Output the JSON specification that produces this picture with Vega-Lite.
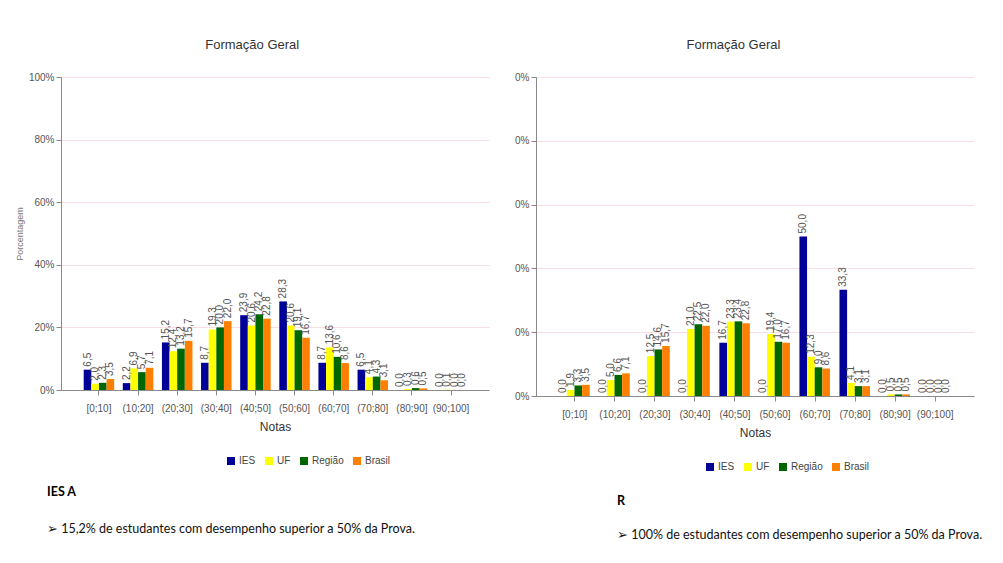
{
  "$schema": "https://vega.github.io/schema/vega-lite/v6.json",
  "background": "white",
  "padding": {"left": 15, "top": 39, "right": 5, "bottom": 5},
  "datasets": {
    "iesA": [
      {"faixa": "[0;10]", "serie": "IES", "v": 6.5}, {"faixa": "[0;10]", "serie": "UF", "v": 2.0}, {"faixa": "[0;10]", "serie": "Região", "v": 2.3}, {"faixa": "[0;10]", "serie": "Brasil", "v": 3.5},
      {"faixa": "(10;20]", "serie": "IES", "v": 2.2}, {"faixa": "(10;20]", "serie": "UF", "v": 6.9}, {"faixa": "(10;20]", "serie": "Região", "v": 5.7}, {"faixa": "(10;20]", "serie": "Brasil", "v": 7.1},
      {"faixa": "(20;30]", "serie": "IES", "v": 15.2}, {"faixa": "(20;30]", "serie": "UF", "v": 12.4}, {"faixa": "(20;30]", "serie": "Região", "v": 13.2}, {"faixa": "(20;30]", "serie": "Brasil", "v": 15.7},
      {"faixa": "(30;40]", "serie": "IES", "v": 8.7}, {"faixa": "(30;40]", "serie": "UF", "v": 19.3}, {"faixa": "(30;40]", "serie": "Região", "v": 20.0}, {"faixa": "(30;40]", "serie": "Brasil", "v": 22.0},
      {"faixa": "(40;50]", "serie": "IES", "v": 23.9}, {"faixa": "(40;50]", "serie": "UF", "v": 20.6}, {"faixa": "(40;50]", "serie": "Região", "v": 24.2}, {"faixa": "(40;50]", "serie": "Brasil", "v": 22.8},
      {"faixa": "(50;60]", "serie": "IES", "v": 28.3}, {"faixa": "(50;60]", "serie": "UF", "v": 20.6}, {"faixa": "(50;60]", "serie": "Região", "v": 19.1}, {"faixa": "(50;60]", "serie": "Brasil", "v": 16.7},
      {"faixa": "(60;70]", "serie": "IES", "v": 8.7}, {"faixa": "(60;70]", "serie": "UF", "v": 13.6}, {"faixa": "(60;70]", "serie": "Região", "v": 10.6}, {"faixa": "(60;70]", "serie": "Brasil", "v": 8.6},
      {"faixa": "(70;80]", "serie": "IES", "v": 6.5}, {"faixa": "(70;80]", "serie": "UF", "v": 4.1}, {"faixa": "(70;80]", "serie": "Região", "v": 4.3}, {"faixa": "(70;80]", "serie": "Brasil", "v": 3.1},
      {"faixa": "(80;90]", "serie": "IES", "v": 0.0}, {"faixa": "(80;90]", "serie": "UF", "v": 0.3}, {"faixa": "(80;90]", "serie": "Região", "v": 0.6}, {"faixa": "(80;90]", "serie": "Brasil", "v": 0.5},
      {"faixa": "(90;100]", "serie": "IES", "v": 0.0}, {"faixa": "(90;100]", "serie": "UF", "v": 0.1}, {"faixa": "(90;100]", "serie": "Região", "v": 0.0}, {"faixa": "(90;100]", "serie": "Brasil", "v": 0.0}
    ],
    "iesR": [
      {"faixa": "[0;10]", "serie": "IES", "v": 0.0}, {"faixa": "[0;10]", "serie": "UF", "v": 1.9}, {"faixa": "[0;10]", "serie": "Região", "v": 3.3}, {"faixa": "[0;10]", "serie": "Brasil", "v": 3.5},
      {"faixa": "(10;20]", "serie": "IES", "v": 0.0}, {"faixa": "(10;20]", "serie": "UF", "v": 5.0}, {"faixa": "(10;20]", "serie": "Região", "v": 6.6}, {"faixa": "(10;20]", "serie": "Brasil", "v": 7.1},
      {"faixa": "(20;30]", "serie": "IES", "v": 0.0}, {"faixa": "(20;30]", "serie": "UF", "v": 12.5}, {"faixa": "(20;30]", "serie": "Região", "v": 14.6}, {"faixa": "(20;30]", "serie": "Brasil", "v": 15.7},
      {"faixa": "(30;40]", "serie": "IES", "v": 0.0}, {"faixa": "(30;40]", "serie": "UF", "v": 21.0}, {"faixa": "(30;40]", "serie": "Região", "v": 22.5}, {"faixa": "(30;40]", "serie": "Brasil", "v": 22.0},
      {"faixa": "(40;50]", "serie": "IES", "v": 16.7}, {"faixa": "(40;50]", "serie": "UF", "v": 23.3}, {"faixa": "(40;50]", "serie": "Região", "v": 23.4}, {"faixa": "(40;50]", "serie": "Brasil", "v": 22.8},
      {"faixa": "(50;60]", "serie": "IES", "v": 0.0}, {"faixa": "(50;60]", "serie": "UF", "v": 19.4}, {"faixa": "(50;60]", "serie": "Região", "v": 17.0}, {"faixa": "(50;60]", "serie": "Brasil", "v": 16.7},
      {"faixa": "(60;70]", "serie": "IES", "v": 50.0}, {"faixa": "(60;70]", "serie": "UF", "v": 12.3}, {"faixa": "(60;70]", "serie": "Região", "v": 9.0}, {"faixa": "(60;70]", "serie": "Brasil", "v": 8.6},
      {"faixa": "(70;80]", "serie": "IES", "v": 33.3}, {"faixa": "(70;80]", "serie": "UF", "v": 4.1}, {"faixa": "(70;80]", "serie": "Região", "v": 3.1}, {"faixa": "(70;80]", "serie": "Brasil", "v": 3.1},
      {"faixa": "(80;90]", "serie": "IES", "v": 0.0}, {"faixa": "(80;90]", "serie": "UF", "v": 0.5}, {"faixa": "(80;90]", "serie": "Região", "v": 0.5}, {"faixa": "(80;90]", "serie": "Brasil", "v": 0.5},
      {"faixa": "(90;100]", "serie": "IES", "v": 0.0}, {"faixa": "(90;100]", "serie": "UF", "v": 0.0}, {"faixa": "(90;100]", "serie": "Região", "v": 0.0}, {"faixa": "(90;100]", "serie": "Brasil", "v": 0.0}
    ]
  },
  "config": {
    "font": "'Liberation Sans', sans-serif",
    "view": {"stroke": null},
    "axis": {
      "labelFont": "'Liberation Sans', sans-serif",
      "titleFont": "'Liberation Sans', sans-serif",
      "labelColor": "#555555", "labelFontSize": 10,
      "titleColor": "#333333", "titleFontWeight": "normal", "titleFontSize": 12,
      "domainColor": "#8a8a8a", "tickColor": "#8a8a8a", "tickSize": 5
    },
    "legend": {
      "labelFont": "'Liberation Sans', sans-serif",
      "labelFontSize": 10, "labelColor": "#444444"
    }
  },
  "spacing": 25,
  "resolve": {"scale": {"color": "independent"}, "legend": {"color": "independent"}},
  "hconcat": [
    {
      "title": {"text": "Formação Geral", "anchor": "middle", "fontSize": 13, "fontWeight": "normal", "color": "#333333", "font": "'Liberation Sans', sans-serif", "offset": 20, "dx": 0},
      "vconcat": [
        {
          "data": {"name": "iesA"},
          "width": 428, "height": 313,
          "title": {"text": "IES A", "subtitle": "➢ 15,2% de estudantes com desempenho superior a 50% da Prova.", "orient": "bottom", "anchor": "start", "frame": "group", "dx": -14, "offset": 54, "font": "Lato", "fontSize": 12.5, "fontWeight": "bold", "color": "#000000", "subtitleFont": "Lato", "subtitleFontSize": 12.5, "subtitleColor": "#111111", "subtitlePadding": 24},
          "encoding": {
            "x": {"field": "faixa", "type": "nominal", "sort": ["[0;10]", "(10;20]", "(20;30]", "(30;40]", "(40;50]", "(50;60]", "(60;70]", "(70;80]", "(80;90]", "(90;100]"], "scale": {"paddingInner": 0.22, "paddingOuter": 0.58}, "axis": {"title": "Notas", "labelAngle": 0, "labelPadding": 8, "titlePadding": 8, "grid": false}},
            "xOffset": {"field": "serie", "type": "nominal", "sort": ["IES", "UF", "Região", "Brasil"]},
            "y": {"field": "v", "type": "quantitative", "scale": {"domain": [0, 100], "nice": false}, "axis": {"values": [0, 20, 40, 60, 80, 100], "labelExpr": "datum.value + '%'", "grid": true, "gridColor": "#fbdde4", "title": "Porcentagem", "titleFontSize": 9, "titleColor": "#777777", "titlePadding": 4}}
          },
          "layer": [
            {"mark": {"type": "bar"}, "encoding": {"color": {"field": "serie", "type": "nominal", "sort": ["IES", "UF", "Região", "Brasil"], "scale": {"domain": ["IES", "UF", "Região", "Brasil"], "range": ["#000099", "#ffff00", "#006600", "#ff8000"]}, "legend": {"orient": "none", "legendX": 165, "legendY": 379, "direction": "horizontal", "title": null, "symbolType": "square", "symbolSize": 64, "symbolStrokeWidth": 0, "columnPadding": 8, "labelOffset": 3}}}},
            {"transform": [{"calculate": "replace(format(datum.v, '.1f'), '.', ',')", "as": "rot"}], "mark": {"type": "text", "angle": 270, "align": "left", "baseline": "middle", "dx": 3, "fontSize": 10, "color": "#555555", "font": "'Liberation Sans', sans-serif"}, "encoding": {"text": {"field": "rot"}}}
          ]
        }
      ]
    },
    {
      "title": {"text": "Formação Geral", "anchor": "middle", "fontSize": 13, "fontWeight": "normal", "color": "#333333", "font": "'Liberation Sans', sans-serif", "offset": 20, "dx": -15},
      "vconcat": [
        {
          "data": {"name": "iesR"},
          "width": 438, "height": 319,
          "title": {"text": "R", "subtitle": "➢ 100% de estudantes com desempenho superior a 50% da Prova.", "orient": "bottom", "anchor": "start", "frame": "group", "dx": 81, "offset": 57, "font": "Lato", "fontSize": 12.5, "fontWeight": "bold", "color": "#000000", "subtitleFont": "Lato", "subtitleFontSize": 12.5, "subtitleColor": "#111111", "subtitlePadding": 21},
          "encoding": {
            "x": {"field": "faixa", "type": "nominal", "sort": ["[0;10]", "(10;20]", "(20;30]", "(30;40]", "(40;50]", "(50;60]", "(60;70]", "(70;80]", "(80;90]", "(90;100]"], "scale": {"paddingInner": 0.22, "paddingOuter": 0.58}, "axis": {"title": "Notas", "labelAngle": 0, "labelPadding": 8, "titlePadding": 8, "grid": false}},
            "xOffset": {"field": "serie", "type": "nominal", "sort": ["IES", "UF", "Região", "Brasil"]},
            "y": {"field": "v", "type": "quantitative", "scale": {"domain": [0, 100], "nice": false}, "axis": {"values": [0, 20, 40, 60, 80, 100], "labelExpr": "'0%'", "grid": true, "gridColor": "#fbdde4", "title": null}}
          },
          "layer": [
            {"mark": {"type": "bar"}, "encoding": {"color": {"field": "serie", "type": "nominal", "sort": ["IES", "UF", "Região", "Brasil"], "scale": {"domain": ["IES", "UF", "Região", "Brasil"], "range": ["#000099", "#ffff00", "#006600", "#ff8000"]}, "legend": {"orient": "none", "legendX": 169, "legendY": 385, "direction": "horizontal", "title": null, "symbolType": "square", "symbolSize": 64, "symbolStrokeWidth": 0, "columnPadding": 8, "labelOffset": 3}}}},
            {"transform": [{"calculate": "replace(format(datum.v, '.1f'), '.', ',')", "as": "rot"}], "mark": {"type": "text", "angle": 270, "align": "left", "baseline": "middle", "dx": 3, "fontSize": 10, "color": "#555555", "font": "'Liberation Sans', sans-serif"}, "encoding": {"text": {"field": "rot"}}}
          ]
        }
      ]
    }
  ]
}
